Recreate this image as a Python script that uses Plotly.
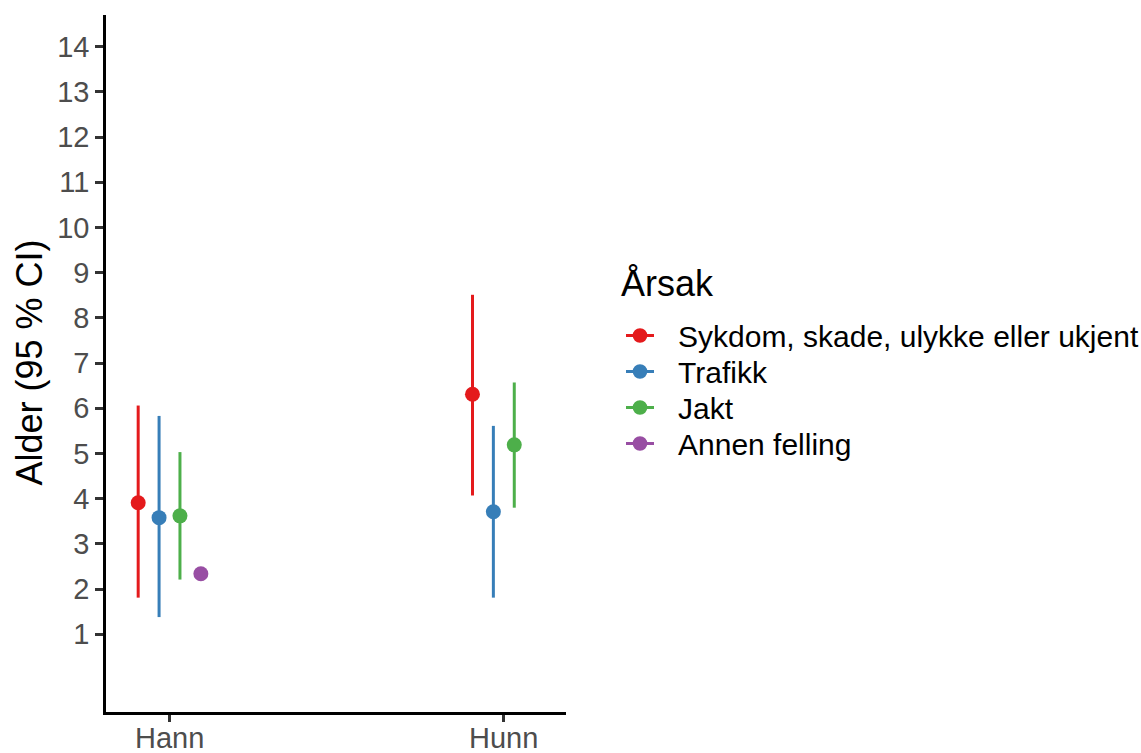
import plotly.graph_objects as go

# Data
groups = ["Hann", "Hunn"]
causes = ["Sykdom, skade, ulykke eller ukjent", "Trafikk", "Jakt", "Annen felling"]
colors = ["#E41A1C", "#377EB8", "#4DAF4A", "#984EA3"]

est = {
    "Sykdom, skade, ulykke eller ukjent": [3.91, 6.31],
    "Trafikk": [3.58, 3.71],
    "Jakt": [3.62, 5.19],
    "Annen felling": [2.34, None],
}
lower = {
    "Sykdom, skade, ulykke eller ukjent": [1.81, 4.07],
    "Trafikk": [1.38, 1.81],
    "Jakt": [2.21, 3.80],
    "Annen felling": [None, None],
}
upper = {
    "Sykdom, skade, ulykke eller ukjent": [6.06, 8.51],
    "Trafikk": [5.83, 5.61],
    "Jakt": [5.03, 6.57],
    "Annen felling": [None, None],
}

W, H = 1141, 753
ML, MR, MT, MB = 106, 575, 15, 41
PW, PH = W - ML - MR, H - MT - MB


def px_x(p):
    return (p - ML) / PW


def px_y(p):
    return (H - MB - p) / PH


dodge = 0.0625
n = len(causes)
fig = go.Figure()
for i, (c, col) in enumerate(zip(causes, colors)):
    off = (i - (n - 1) / 2) * dodge
    xs, ys, ep, em = [], [], [], []
    for g, (m, lo, hi) in enumerate(zip(est[c], lower[c], upper[c])):
        if m is None:
            continue
        xs.append(g + 1 + off)
        ys.append(m)
        ep.append((hi - m) if hi is not None else 0)
        em.append((m - lo) if lo is not None else 0)
    fig.add_trace(go.Scatter(
        x=xs, y=ys, name=c, mode="markers", showlegend=False,
        marker=dict(color=col, size=15),
        error_y=dict(type="data", array=ep, arrayminus=em, symmetric=False,
                     width=0, thickness=3, color=col),
    ))

font_family = "Arial, Liberation Sans, sans-serif"

# Legend drawn as keys + text (ggplot style)
shapes = []
annotations = []
row_y = [335.5, 371.5, 407.5, 443.5]
for c, col, ry in zip(causes, colors, row_y):
    shapes.append(dict(type="line", xref="paper", yref="paper",
                       x0=px_x(626), x1=px_x(654), y0=px_y(ry), y1=px_y(ry),
                       line=dict(color=col, width=3)))
    shapes.append(dict(type="circle", xref="paper", yref="paper",
                       xsizemode="pixel", ysizemode="pixel",
                       xanchor=px_x(640), yanchor=px_y(ry),
                       x0=-7.3, x1=7.3, y0=-7.3, y1=7.3,
                       fillcolor=col, line=dict(width=0)))
    annotations.append(dict(text=c, xref="paper", yref="paper",
                            x=px_x(676), y=px_y(ry + 1), xanchor="left", yanchor="middle",
                            showarrow=False, font=dict(size=30, color="black")))

annotations.append(dict(text="Årsak", xref="paper", yref="paper",
                        x=px_x(619), y=px_y(283), xanchor="left", yanchor="middle",
                        showarrow=False, font=dict(size=36, color="black")))
annotations.append(dict(text="Alder (95 % CI)", xref="paper", yref="paper",
                        x=px_x(29), y=px_y(362.5), xanchor="center", yanchor="middle",
                        textangle=-90, showarrow=False, font=dict(size=36, color="black")))
for k, g in enumerate(groups):
    annotations.append(dict(text=g, xref="x", yref="paper", x=k + 1, y=0,
                            xanchor="center", yanchor="top", yshift=-8,
                            showarrow=False, font=dict(size=29, color="#4D4D4D")))

fig.update_layout(
    width=W, height=H,
    margin=dict(l=ML, r=MR, t=MT, b=MB, autoexpand=False),
    paper_bgcolor="white", plot_bgcolor="white",
    font=dict(family=font_family, color="black"),
    showlegend=False,
    shapes=shapes,
    annotations=annotations,
    xaxis=dict(
        range=[0.81, 2.186], tickvals=[1, 2], ticktext=groups, showticklabels=False,
        showline=True, linecolor="black", linewidth=2.5,
        ticks="outside", ticklen=7, tickwidth=2.5, tickcolor="#333333",
        automargin=False, showgrid=False, zeroline=False,
    ),
    yaxis=dict(
        range=[-0.72, 14.70], tickvals=list(range(1, 15)),
        showline=True, linecolor="black", linewidth=2.5,
        ticks="outside", ticklen=8, tickwidth=2.5, tickcolor="#333333",
        tickfont=dict(size=29, color="#4D4D4D"), automargin=False,
        showgrid=False, zeroline=False,
    ),
)

fig.write_html("out.html")
